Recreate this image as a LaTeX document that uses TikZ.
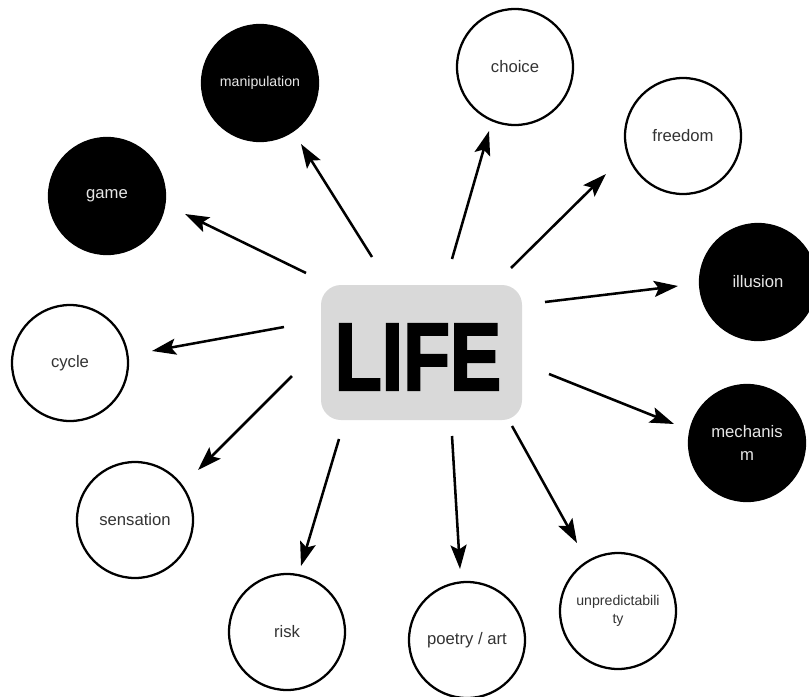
\documentclass[tikz,border=0pt]{standalone}
\usepackage{fontspec}
\setmainfont{Liberation Sans}
\newfontfamily\lifefont[BoldFeatures={FakeBold=2.5}]{Liberation Sans}
\usetikzlibrary{arrows.meta}
\definecolor{boxgray}{HTML}{D9D9D9}
\definecolor{txtdark}{HTML}{333333}
\definecolor{txtlight}{HTML}{E6E6E6}
\tikzset{
  bubble/.style={circle, minimum size=87pt, inner sep=0pt, line width=1.7pt, align=center,
    font=\fontsize{12.5pt}{17pt}\selectfont},
  smalltext/.style={font=\fontsize{10.6pt}{13.7pt}\selectfont},
  whitebubble/.style={bubble, draw=black, fill=white, text=txtdark},
  blackbubble/.style={bubble, draw=black, fill=black, text=txtlight},
  arr/.style={line width=1.9pt, -{Stealth[length=18pt, width=12pt, inset=3.5pt]}},
  lifebox/.style={rounded corners=15pt, fill=boxgray, draw=none}
}
\begin{document}
\begin{tikzpicture}[x=0.75pt, y=-0.75pt]
\useasboundingbox (0,0) rectangle (809,696);
\clip (0,0) rectangle (809,696);
% central box
\node[lifebox, minimum width=150.75pt, minimum height=101.25pt] (life) at (421.5,352.5) {};
\node[inner sep=0pt, xscale=0.8, yscale=1.0] (lifetext) at (418,357)
  {\lifefont\bfseries\fontsize{72pt}{72pt}\selectfont LIFE};
% bubbles
\node[blackbubble, smalltext] (manip) at (260,83) {manipulation};
\node[blackbubble] (game) at (107,196) {game};
\node[whitebubble] (choice) at (515,67) {choice};
\node[whitebubble] (freedom) at (683,136) {freedom};
\node[blackbubble] (illusion) at (758,282) {illusion};
\node[blackbubble] (mech) at (747,443) {mechanis\\m};
\node[whitebubble] (cycle) at (70,363) {cycle};
\node[whitebubble] (sens) at (135,520) {sensation};
\node[whitebubble] (risk) at (287,632) {risk};
\node[whitebubble] (poetry) at (467,640) {poetry / art};
\node[whitebubble, smalltext] (unpred) at (618,611) {unpredictabili\\ty};
% arrow endpoints
\coordinate (s1) at (372,257); \coordinate (e1) at (301,144);
\coordinate (s2) at (452,259); \coordinate (e2) at (489,131);
\coordinate (s3) at (511,268); \coordinate (e3) at (606,174);
\coordinate (s4) at (306,273); \coordinate (e4) at (185,214);
\coordinate (s5) at (545,302); \coordinate (e5) at (678,286);
\coordinate (s6) at (284,327); \coordinate (e6) at (152,351);
\coordinate (s7) at (549,374); \coordinate (e7) at (674,424);
\coordinate (s8) at (292,376); \coordinate (e8) at (198,470);
\coordinate (s9) at (339,439); \coordinate (e9) at (301,566);
\coordinate (s10) at (452,436); \coordinate (e10) at (460,569);
\coordinate (s11) at (512,426); \coordinate (e11) at (577,543);
\foreach \i in {1,...,11} { \draw[arr] (s\i) -- (e\i); }
\end{tikzpicture}
\end{document}
